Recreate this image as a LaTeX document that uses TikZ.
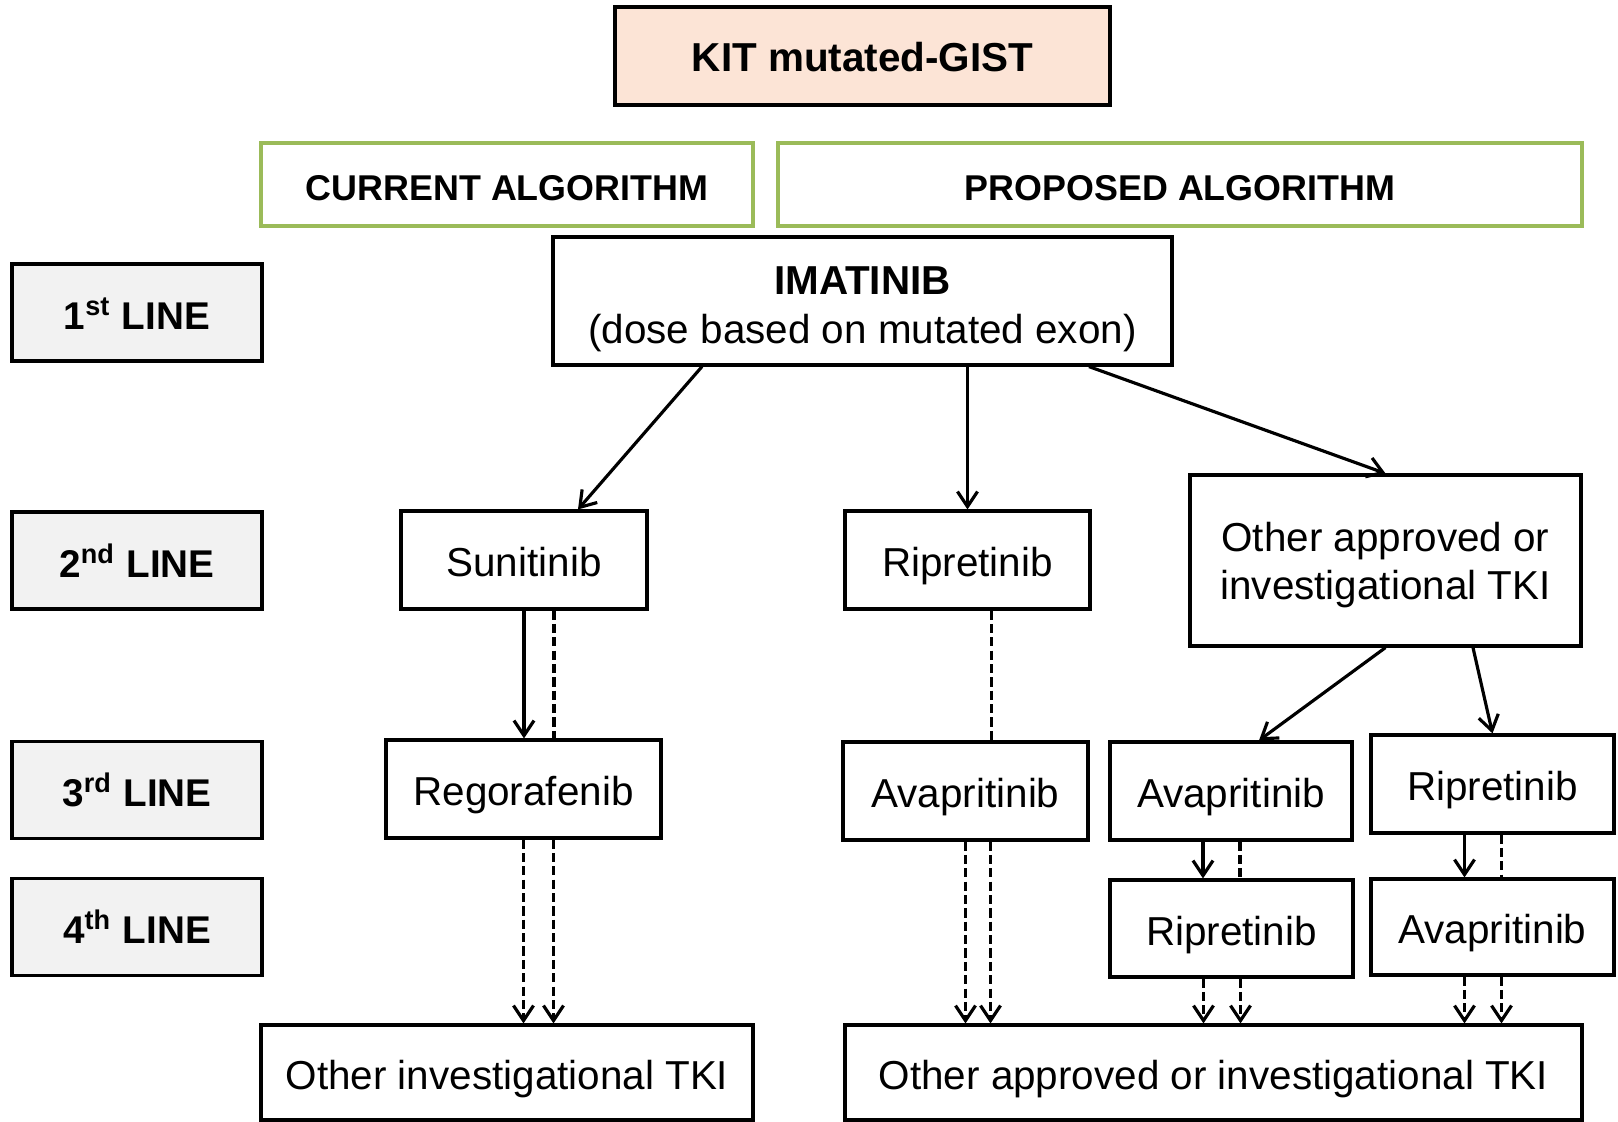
\documentclass[tikz,border=0pt]{standalone}
\usepackage{fontspec}
\setmainfont{Liberation Sans}
\usetikzlibrary{arrows.meta,positioning}
\definecolor{gistpeach}{RGB}{252,228,214}
\definecolor{gistgreen}{RGB}{155,187,89}
\definecolor{gistgray}{RGB}{242,242,242}

\begin{document}
\begin{tikzpicture}[font=\fontsize{11.5}{13.5}\selectfont,
    box/.style={draw,line width=0.9pt,inner sep=0pt,minimum height=0.98cm},
    onebox/.style={box,text height=0.95em,text depth=0pt},
    linebox/.style={box,fill=gistgray,minimum width=2.5cm,minimum height=0.97cm,text height=0.95em,text depth=0pt,font=\fontsize{11}{13}\selectfont\bfseries},
    algbox/.style={draw=gistgreen,line width=1.1pt,inner sep=0pt,minimum height=0.83cm,text height=0.9em,text depth=0pt,font=\fontsize{10.2}{12}\selectfont\bfseries},
    arr/.style={-{Straight Barb[length=1.5mm,width=2mm]},line width=0.9pt},
    darr/.style={arr,dash pattern=on 2.6pt off 1.2pt},
    dline/.style={line width=0.9pt,dash pattern=on 2.6pt off 1.2pt}]
        \useasboundingbox (0,0) rectangle (16.18,-11.22);
        % header
        \node[onebox,fill=gistpeach,minimum width=4.95cm,text height=0.9em,font=\fontsize{11.5}{13}\selectfont\bfseries] (kit) at (8.625,-0.56) {KIT mutated-GIST};
        \node[algbox,minimum width=4.92cm] (cur) at (5.07,-1.845) {CURRENT ALGORITHM};
        \node[algbox,minimum width=8.04cm] (prop) at (11.80,-1.845) {PROPOSED ALGORITHM};
        % line labels
        \node[linebox] (l1) at (1.37,-3.125) {1\textsuperscript{st} LINE};
        \node[linebox] (l2) at (1.37,-5.605) {2\textsuperscript{nd} LINE};
        \node[linebox] (l3) at (1.37,-7.90) {3\textsuperscript{rd} LINE};
        \node[linebox] (l4) at (1.37,-9.27) {4\textsuperscript{th} LINE};
        % treatments
        \node[box,minimum width=6.19cm,minimum height=1.28cm,align=center,font=\fontsize{11.5}{14}\selectfont] (ima) at (8.625,-3.01) {\rule{0pt}{1.1em}\textbf{IMATINIB}\\(dose based on mutated exon)};
        \node[onebox,minimum width=2.46cm] (suni) at (5.24,-5.60) {Sunitinib};
        \node[onebox,minimum width=2.45cm] (ripa) at (9.675,-5.60) {Ripretinib};
        \node[box,minimum width=3.91cm,minimum height=1.71cm,align=center] (oth) at (13.855,-5.605) {\rule{0pt}{0.95em}Other approved or\\investigational TKI};
        \node[onebox,minimum width=2.75cm] (rego) at (5.235,-7.89) {Regorafenib};
        \node[onebox,minimum width=2.45cm] (avab) at (9.655,-7.91) {Avapritinib};
        \node[onebox,minimum width=2.42cm] (avac) at (12.31,-7.91) {Avapritinib};
        \node[onebox,minimum width=2.43cm] (ripc) at (14.925,-7.84) {Ripretinib};
        \node[onebox,minimum width=2.43cm,minimum height=0.97cm] (ripd) at (12.315,-9.285) {Ripretinib};
        \node[onebox,minimum width=2.43cm,minimum height=0.96cm] (avad) at (14.925,-9.27) {Avapritinib};
        \node[onebox,minimum width=4.92cm,minimum height=0.95cm] (botl) at (5.07,-10.725) {Other investigational TKI};
        \node[onebox,minimum width=7.37cm,minimum height=0.95cm] (botr) at (12.135,-10.725) {Other approved or investigational TKI};
        % arrows
        \draw[arr] ([xshift=-1.605cm]ima.south) -- ([xshift=0.54cm]suni.north);
        \draw[arr] (ripa.north |- ima.south) -- (ripa.north);
        \draw[arr] ([xshift=2.265cm]ima.south) -- (oth.north);
        \draw[arr] (suni.south) -- (suni.south |- rego.north);
        \draw[dline] ([xshift=.3cm]suni.south) -- ([xshift=.3cm]suni.south |- rego.north);
        \draw[darr] (rego.south) -- (rego.south |- botl.north);
        \draw[darr] ([xshift=.3cm]rego.south) -- ([xshift=.3cm]rego.south |- botl.north);
        \draw[dline] ([xshift=.24cm]ripa.south) -- ([xshift=.24cm]ripa.south |- avab.north);
        \draw[darr] (avab.south) -- (avab.south |- botr.north);
        \draw[darr] ([xshift=.25cm]avab.south) -- ([xshift=.25cm]avab.south |- botr.north);
        \draw[arr] (oth.south) -- ([xshift=.28cm]avac.north);
        \draw[arr] ([xshift=.875cm]oth.south) -- (ripc.north);
        \foreach \a/\b in {avac/ripd,ripc/avad} {
          \draw[arr] ([xshift=-.28cm]\a.south) -- ([xshift=-.28cm]\a.south |- \b.north);
          \draw[dline] ([xshift=.09cm]\a.south) -- ([xshift=.09cm]\a.south |- \b.north);
          \draw[darr] ([xshift=-.28cm]\b.south) -- ([xshift=-.28cm]\b.south |- botr.north);
          \draw[darr] ([xshift=.09cm]\b.south) -- ([xshift=.09cm]\b.south |- botr.north);
        }
      \end{tikzpicture}
\end{document}
